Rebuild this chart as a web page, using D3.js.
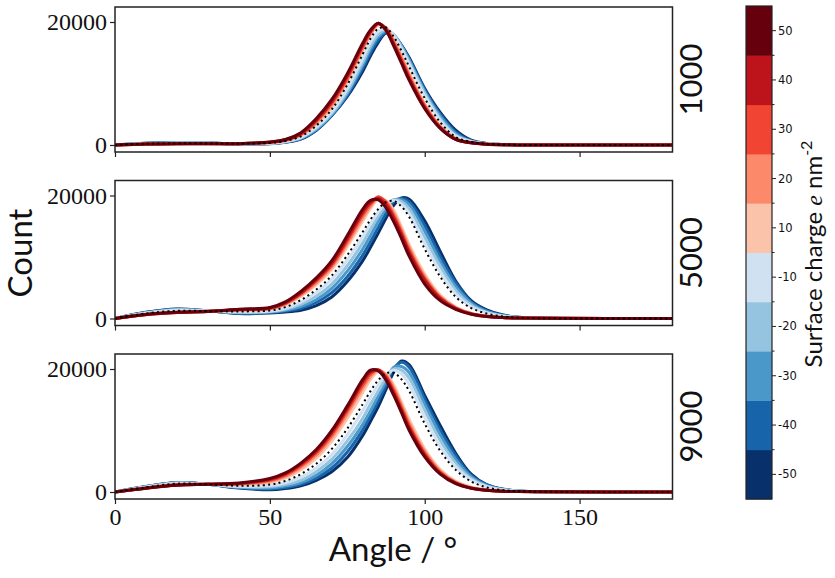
<!DOCTYPE html>
<html><head><meta charset="utf-8">
<script src="https://cdn.jsdelivr.net/npm/d3@7"></script>
<style>body{margin:0;background:#fff}svg{display:block}</style>
</head><body>
<script>
// ---------------- data ----------------
const angles = [0,10,20,30,40,50,55,60,65,70,75,80,82.5,85,87.5,90,92.5,95,100,105,110,115,120,125,130,140,180];
const charges = [-50,-40,-30,-20,-10,10,20,30,40,50];
const chargeColors = ["#08306b","#1764ab","#4a98c9","#94c4df","#d0e1f2","#fcc3ab","#fc8a6a","#f14432","#bc141a","#67000d"];
const panelLabels = ["1000","5000","9000"];
const xTicks = [0,50,100,150];
const yTicks = [0,20000];

// counts per panel, one row per charge (same order as charges)
const counts1000 = [
 [0,300,400,350,150,200,450,950,2400,4800,7900,12000,14500,16700,18200,17700,16200,14200,9200,5300,2400,780,240,80,20,0,0],
 [0,280,380,340,160,230,470,1000,2450,4850,8100,12500,15000,17100,18300,17800,16200,14000,9000,5000,2100,700,230,80,22,0,0],
 [0,260,360,320,170,250,500,1080,2550,4950,8400,13000,15600,17600,18500,17900,16100,13800,8700,4700,1850,630,210,75,20,0,0],
 [0,240,330,310,190,270,540,1150,2700,5100,8700,13500,16100,18000,18700,17900,15900,13500,8400,4300,1600,580,200,70,20,0,0],
 [0,220,300,290,200,300,580,1250,2900,5400,9200,14100,16700,18500,18900,17800,15600,13100,8000,4000,1450,530,190,65,18,0,0],
 [0,180,240,250,220,380,700,1550,3450,6200,10300,15400,17900,19500,19100,17100,14500,11700,6700,3100,1050,420,160,55,15,0,0],
 [0,170,230,240,220,400,760,1650,3650,6500,10600,15700,18100,19600,19000,16900,14200,11400,6500,3000,1000,400,150,50,12,0,0],
 [0,160,220,230,220,430,800,1750,3850,6800,10900,16000,18300,19700,18900,16600,13900,11100,6300,2900,950,380,140,50,12,0,0],
 [0,150,210,220,220,460,850,1850,4050,7050,11200,16300,18500,19800,18800,16400,13600,10800,6100,2800,920,360,130,45,10,0,0],
 [0,150,200,200,220,500,900,2000,4300,7400,11600,16600,18700,19800,18600,16100,13300,10500,5900,2700,900,350,120,40,10,0,0]
];
const ref1000 = [0,200,260,260,220,340,640,1400,3150,5800,9800,14800,17300,18900,19100,17600,15300,12700,7600,3700,1300,500,180,60,15,0,0];

const counts5000 = [
 [0,1000,1550,1250,800,900,1050,1350,2100,3500,6000,9400,11600,13900,16300,18400,19600,19400,15900,10900,6100,2900,1400,600,220,40,0],
 [0,970,1510,1250,860,980,1200,1650,2600,4200,6800,10300,12500,14800,17100,19000,19500,19000,15100,10100,5800,2700,1250,540,200,40,0],
 [0,930,1460,1240,930,1050,1350,1950,3050,4900,7700,11300,13500,15800,17900,19300,19300,18500,14200,9300,5200,2500,1150,480,190,35,0],
 [0,900,1400,1230,1000,1120,1500,2300,3600,5600,8600,12300,14500,16600,18300,19300,19000,17800,13200,8500,4600,2200,1000,430,170,35,0],
 [0,860,1330,1220,1080,1200,1650,2650,4200,6400,9500,13300,15400,17300,18700,19200,18600,17100,12200,7600,4000,1900,900,380,150,30,0],
 [0,680,1040,1180,1330,1500,2200,3600,5500,8000,11700,15900,17900,19400,19200,17600,14900,12000,7200,3800,1850,850,380,160,70,20,0],
 [0,640,1000,1170,1380,1580,2350,3800,5800,8400,12200,16400,18300,19600,19000,17100,14400,11500,6800,3550,1750,800,360,150,70,20,0],
 [0,620,980,1160,1420,1650,2450,4000,6100,8700,12600,16900,18600,19800,18900,16700,14000,11100,6500,3400,1700,780,350,150,70,20,0],
 [0,630,990,1150,1450,1700,2550,4150,6300,9000,13000,17300,18900,19500,18500,16300,13600,10700,6200,3250,1600,750,340,150,70,20,0],
 [0,650,1000,1150,1500,1800,2700,4400,6600,9400,13500,17800,19200,19300,18000,15700,13000,10100,5600,2900,1500,700,330,150,70,20,0]
];
const ref5000 = [0,820,1250,1200,1150,1300,1850,3000,4700,7000,10300,14100,16100,17800,18900,19100,18200,16500,11300,6800,3500,1700,800,350,140,30,0];

const counts9000 = [
 [0,900,1550,1250,650,350,550,1000,1900,3300,5600,9200,11500,13900,16700,19500,21300,20700,15700,10800,6300,2900,1200,480,180,30,0],
 [0,880,1520,1250,710,480,720,1250,2250,3900,6500,10100,12400,14800,17400,20100,21100,20300,15100,10100,5900,2700,1150,460,170,30,0],
 [0,850,1490,1260,780,650,950,1550,2700,4600,7400,11000,13200,15600,18000,20300,20400,19400,14300,9300,5300,2500,1050,430,160,30,0],
 [0,820,1450,1260,850,850,1200,1900,3300,5300,8300,12000,14300,16400,18500,20000,19800,18500,13300,8400,4700,2200,950,400,150,25,0],
 [0,790,1400,1260,930,1050,1500,2400,3900,6100,9300,13200,15400,17400,19000,19800,19200,17500,12200,7500,4100,1950,850,360,140,25,0],
 [0,700,1250,1260,1200,1550,2250,3600,5500,8300,12000,16200,18300,19600,19200,17400,14600,11800,7000,3650,1750,770,330,140,60,20,0],
 [0,660,1180,1260,1300,1750,2550,4000,6000,8900,12700,16900,18800,19800,19000,16900,14100,11200,6600,3400,1600,700,300,130,60,20,0],
 [0,640,1150,1260,1350,1900,2750,4250,6350,9300,13200,17400,19200,19900,18800,16500,13700,10800,6300,3200,1500,660,290,120,60,20,0],
 [0,620,1120,1250,1400,2050,2950,4500,6650,9700,13600,17900,19500,19800,18500,16100,13300,10400,6000,3050,1430,630,280,120,60,20,0],
 [0,600,1100,1250,1450,2200,3100,4700,6900,10000,14000,18300,19800,19700,18200,15700,12900,10000,5700,2900,1350,600,270,120,60,20,0]
];
const ref9000 = [0,750,1350,1250,1000,1200,1800,2900,4600,7000,10300,14300,16400,18200,19300,19400,18300,16400,11100,6700,3600,1700,750,320,130,25,0];

const panelCounts = [counts1000, counts5000, counts9000];
const panelRefs = [ref1000, ref5000, ref9000];

// ---------------- drawing ----------------
const W = 835, H = 578;
const svg = d3.select("body").append("svg").attr("width", W).attr("height", H);

const left = 115, right = 672.5, panelH = 145;
const panelTops = [7, 180.5, 354];
const x = d3.scaleLinear().domain([0,180]).range([left, right]);
const serif = "'Liberation Serif','DejaVu Serif',serif";
const sans = "Lato,'Open Sans','DejaVu Sans',sans-serif";

panelTops.forEach((top, pi) => {
  const y = d3.scaleLinear().domain([-1140, 22440]).range([top + panelH, top]);
  const g = svg.append("g");
  const clipId = "clip" + pi;
  svg.append("clipPath").attr("id", clipId).append("rect")
    .attr("x", left).attr("y", top).attr("width", right - left).attr("height", panelH);

  const line = d3.line().x((d, i) => x(angles[i])).y(d => y(d)).curve(d3.curveCatmullRom.alpha(0.5));
  const lines = g.append("g").attr("clip-path", `url(#${clipId})`);
  panelCounts[pi].forEach((row, ci) => {
    lines.append("path").attr("d", line(row)).attr("fill", "none")
      .attr("stroke", chargeColors[ci]).attr("stroke-width", 3)
      .attr("stroke-linejoin", "round").attr("stroke-linecap", "round");
  });
  lines.append("path").attr("d", line(panelRefs[pi])).attr("fill", "none")
    .attr("stroke", "#000").attr("stroke-width", 2)
    .attr("stroke-dasharray", "2,3.3");

  g.append("rect").attr("x", left).attr("y", top).attr("width", right - left).attr("height", panelH)
    .attr("fill", "none").attr("stroke", "#222").attr("stroke-width", 1.5);

  const yAxis = d3.axisLeft(y).tickValues(yTicks).tickSize(5).tickPadding(3).tickFormat(d3.format("d"));
  const ya = g.append("g").attr("transform", `translate(${left},0)`).call(yAxis);
  ya.select(".domain").remove();
  ya.selectAll("line").attr("stroke", "#222").attr("stroke-width", 1.2);
  ya.selectAll("text").attr("font-family", serif).attr("font-size", 24).attr("fill", "#111");

  const xAxis = d3.axisBottom(x).tickValues(xTicks).tickSize(5).tickPadding(4);
  const xa = g.append("g").attr("transform", `translate(0,${top + panelH})`).call(xAxis);
  xa.select(".domain").remove();
  xa.selectAll("line").attr("stroke", "#222").attr("stroke-width", 1.2);
  if (pi < 2) xa.selectAll("text").remove();
  else xa.selectAll("text").attr("font-family", serif).attr("font-size", 24).attr("fill", "#111");

  g.append("text").attr("transform", `translate(702,${top + panelH/2}) rotate(-90)`)
    .attr("text-anchor", "middle").attr("font-family", sans).attr("font-size", 31).attr("fill", "#111")
    .text(panelLabels[pi]);
});

svg.append("text").attr("transform", `translate(32,253) rotate(-90)`).attr("text-anchor", "middle")
  .attr("font-family", sans).attr("font-size", 33).attr("fill", "#111").text("Count");
svg.append("text").attr("x", 393).attr("y", 561).attr("text-anchor", "middle")
  .attr("font-family", sans).attr("font-size", 33).attr("fill", "#111").text("Angle / °");

// colorbar
const cbX = 746, cbW = 26, cbTop = 6, cbBot = 499;
const cbBand = d3.scaleBand().domain(charges.slice().reverse()).range([cbTop, cbBot]).paddingInner(0).paddingOuter(0);
const cb = svg.append("g");
charges.forEach((c, i) => {
  cb.append("rect").attr("x", cbX).attr("y", cbBand(c)).attr("width", cbW).attr("height", cbBand.bandwidth() + 0.5)
    .attr("fill", chargeColors[i]);
});
cb.append("rect").attr("x", cbX).attr("y", cbTop).attr("width", cbW).attr("height", cbBot - cbTop)
  .attr("fill", "none").attr("stroke", "#222").attr("stroke-width", 1.2);
charges.forEach((c) => {
  const yc = cbBand(c) + cbBand.bandwidth()/2;
  cb.append("line").attr("x1", cbX + cbW).attr("x2", cbX + cbW + 4).attr("y1", yc).attr("y2", yc)
    .attr("stroke", "#222").attr("stroke-width", 1);
  cb.append("text").attr("x", cbX + cbW + 6).attr("y", yc).attr("dy", "0.35em")
    .attr("font-family", "'DejaVu Sans',sans-serif").attr("font-size", 11.5).attr("fill", "#111").text(c);
  const yb = cbBand(c);
  if (yb > cbTop + 1) cb.append("line").attr("x1", cbX + cbW).attr("x2", cbX + cbW + 2.5).attr("y1", yb).attr("y2", yb)
    .attr("stroke", "#222").attr("stroke-width", 1);
});
const title = svg.append("text").attr("transform", `translate(822,254) rotate(-90)`).attr("text-anchor", "middle")
  .attr("font-family", sans).attr("font-size", 24).attr("fill", "#111");
title.append("tspan").text("Surface charge ");
title.append("tspan").attr("font-family", serif).attr("font-style", "italic").text("e");
title.append("tspan").text(" nm");
title.append("tspan").attr("font-size", 16).attr("dy", -10).text("-2");
</script>
</body></html>
